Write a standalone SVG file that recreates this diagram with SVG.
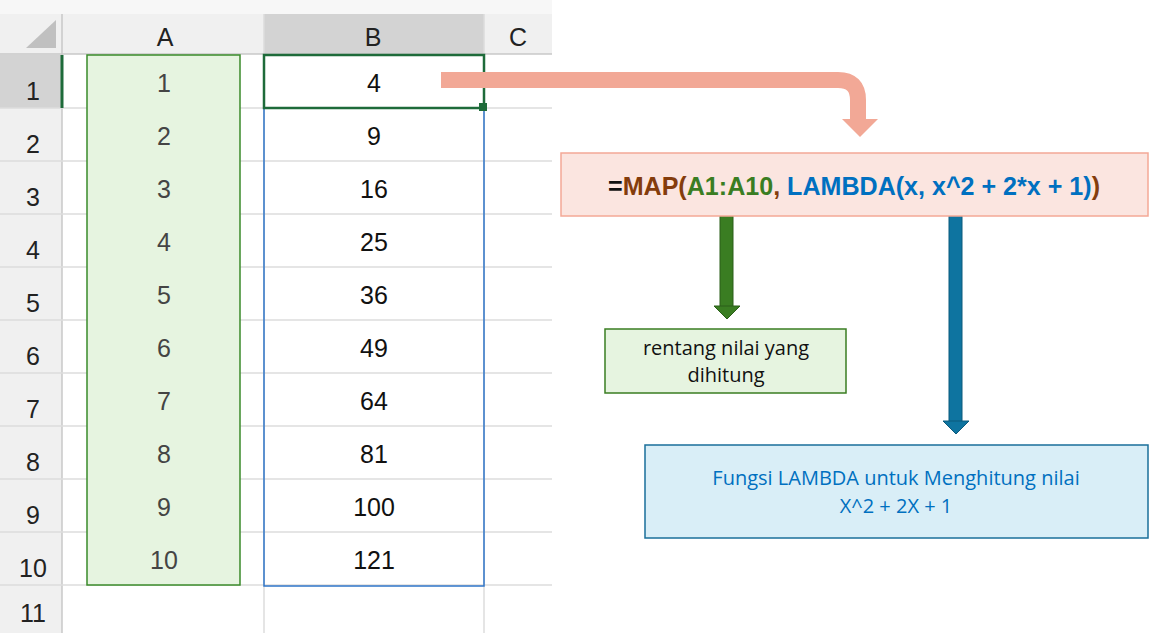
<svg xmlns="http://www.w3.org/2000/svg" width="1155" height="633" viewBox="0 0 1155 633">
<style>
.hd{font-family:"Liberation Sans",Arial,sans-serif;font-size:25px;fill:#222;text-anchor:middle}
.na{font-family:"Liberation Sans",Arial,sans-serif;font-size:25px;fill:#444;text-anchor:middle}
.nb{font-family:"Liberation Sans",Arial,sans-serif;font-size:25px;fill:#111;text-anchor:middle}
.grid{stroke:#dcdcdc;stroke-width:1.5}
.lbl{font-family:"Open Sans","Liberation Sans",sans-serif;font-size:20px;text-anchor:middle}
</style>
<rect width="1155" height="633" fill="#fff"/>
<g id="sheet">
<rect x="0" y="0" width="552" height="14" fill="#f7f7f7"/>
<rect x="0" y="14" width="552" height="40" fill="#f0f0f0"/>
<rect x="264" y="14" width="220" height="40" fill="#d3d3d3"/>
<rect x="0" y="54" width="62" height="579" fill="#f0f0f0"/>
<rect x="0" y="55" width="62" height="53" fill="#d3d3d3"/>
<polygon points="26,48 56,48 56,20" fill="#c0c0c0"/>
<g class="grid">
<line x1="62" y1="14" x2="62" y2="633" stroke="#c8c8c8"/>
<line x1="264" y1="14" x2="264" y2="633"/>
<line x1="484" y1="14" x2="484" y2="633"/>
<line x1="0" y1="54" x2="552" y2="54" stroke="#c8c8c8"/>
<line x1="0" y1="108" x2="552" y2="108"/><line x1="0" y1="161" x2="552" y2="161"/>
<line x1="0" y1="214" x2="552" y2="214"/><line x1="0" y1="267" x2="552" y2="267"/>
<line x1="0" y1="320" x2="552" y2="320"/><line x1="0" y1="373" x2="552" y2="373"/>
<line x1="0" y1="426" x2="552" y2="426"/><line x1="0" y1="479" x2="552" y2="479"/>
<line x1="0" y1="532" x2="552" y2="532"/><line x1="0" y1="585" x2="552" y2="585"/>
</g>
<line x1="62" y1="55" x2="62" y2="108" stroke="#1e6b3a" stroke-width="3"/>
<text class="hd" x="165" y="46">A</text><text class="hd" x="373" y="46" fill="#1e6b3a">B</text><text class="hd" x="518" y="46">C</text>
<g class="hd">
<text x="33" y="100">1</text><text x="33" y="153">2</text><text x="33" y="206">3</text><text x="33" y="259">4</text><text x="33" y="312">5</text>
<text x="33" y="365">6</text><text x="33" y="418">7</text><text x="33" y="471">8</text><text x="33" y="524">9</text><text x="33" y="577">10</text><text x="33" y="622">11</text>
</g>
</g>
<g id="rangeA">
<rect x="87" y="55" width="153" height="530" fill="#e6f4e0" stroke="#3a8a2a" stroke-width="1.5"/>
<text class="na" x="164" y="92">1</text><text class="na" x="164" y="145">2</text><text class="na" x="164" y="198">3</text><text class="na" x="164" y="251">4</text><text class="na" x="164" y="304">5</text>
<text class="na" x="164" y="357">6</text><text class="na" x="164" y="410">7</text><text class="na" x="164" y="463">8</text><text class="na" x="164" y="516">9</text><text class="na" x="164" y="569">10</text>
</g>
<g id="rangeB">
<rect x="264" y="108" width="220" height="478" fill="none" stroke="#2f75c8" stroke-width="1.5"/>
<rect x="264" y="55" width="220" height="53" fill="#fff" stroke="#1e6b3a" stroke-width="2.5"/>
<rect x="479" y="103" width="8" height="8" fill="#1e6b3a"/>
<text class="nb" x="374" y="92">4</text><text class="nb" x="374" y="145">9</text><text class="nb" x="374" y="198">16</text><text class="nb" x="374" y="251">25</text><text class="nb" x="374" y="304">36</text>
<text class="nb" x="374" y="357">49</text><text class="nb" x="374" y="410">64</text><text class="nb" x="374" y="463">81</text><text class="nb" x="374" y="516">100</text><text class="nb" x="374" y="569">121</text>
</g>
<g id="connectors">
<path d="M441,80 H838 Q858,80 858,100 V120" fill="none" stroke="#f2a896" stroke-width="16"/>
<polygon points="842,119 878,119 860,137" fill="#f2a896"/>
<rect x="720" y="206" width="13" height="101" fill="#3a7d22" stroke="#2a5e18"/>
<polygon points="714,306 740,306 727,319" fill="#3a7d22" stroke="#2a5e18"/>
<rect x="949" y="206" width="13" height="216" fill="#0e74a0" stroke="#0b5a7c"/>
<polygon points="943,421 969,421 956,434" fill="#0e74a0" stroke="#0b5a7c"/>
</g>
<g id="formula">
<rect x="561" y="153" width="587" height="63" fill="#fbe5e0" stroke="#f4a896" stroke-width="1.5"/>
<text x="854" y="195" text-anchor="middle" font-family="'Liberation Sans Narrow','Liberation Sans',sans-serif" font-weight="bold" font-size="25" textLength="492" lengthAdjust="spacingAndGlyphs"><tspan fill="#111">=</tspan><tspan fill="#843c0c">MAP(</tspan><tspan fill="#3a7d22">A1:A10</tspan><tspan fill="#843c0c">, </tspan><tspan fill="#0070c0">LAMBDA(x, x^2 + 2*x + 1)</tspan><tspan fill="#843c0c">)</tspan></text>
</g>
<g id="note-range">
<rect x="605" y="329" width="241" height="64" fill="#e6f4e0" stroke="#3a7d22" stroke-width="1.5"/>
<text class="lbl" x="726" y="355" fill="#111">rentang nilai yang</text>
<text class="lbl" x="726" y="382" fill="#111">dihitung</text>
</g>
<g id="note-lambda">
<rect x="645" y="445" width="503" height="93" fill="#d9eef7" stroke="#1a6f9a" stroke-width="1.5"/>
<text class="lbl" x="896" y="485" fill="#0070c0">Fungsi LAMBDA untuk Menghitung nilai</text>
<text class="lbl" x="896" y="513" fill="#0070c0">X^2 + 2X + 1</text>
</g>
</svg>
